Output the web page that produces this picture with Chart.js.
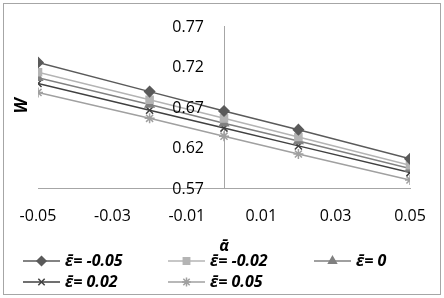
<!DOCTYPE html>
<html>
<head>
<meta charset="utf-8">
<script src="https://cdn.jsdelivr.net/npm/chart.js@4/dist/chart.umd.min.js"></script>
<style>
  html, body { margin: 0; padding: 0; background: #fff; }
  #wrap { width: 444px; height: 298px; }
</style>
</head>
<body>
<div id="wrap"><canvas id="chart" width="444" height="298"></canvas></div>
<script>
// valores
const alphaValues = [-0.05, -0.02, 0, 0.02, 0.05];
const seriesLabels = ['ε̄= -0.05', 'ε̄= -0.02', 'ε̄= 0', 'ε̄= 0.02', 'ε̄= 0.05'];
const wEpsM005 = [0.725, 0.689, 0.665, 0.642, 0.606];
const wEpsM002 = [0.713, 0.679, 0.656, 0.633, 0.598];
const wEps0    = [0.706, 0.673, 0.650, 0.628, 0.594];
const wEps002  = [0.699, 0.666, 0.644, 0.622, 0.589];
const wEps005  = [0.688, 0.656, 0.634, 0.612, 0.580];
const xTicks = [-0.05, -0.03, -0.01, 0.01, 0.03, 0.05];
const yTicks = [0.57, 0.62, 0.67, 0.72, 0.77];

const FONT = "'Open Sans', 'DejaVu Sans', sans-serif";

const styles = [
  { color: '#5a5a5a', point: 'rectRot', radius: 5 },
  { color: '#b4b4b4', point: 'rect', radius: 5 },
  { color: '#808080', point: 'triangle', radius: 5 },
  { color: '#404040', point: 'crossRot', radius: 5 },
  { color: '#a0a0a0', point: 'star', radius: 5 },
];
const allSeries = [wEpsM005, wEpsM002, wEps0, wEps002, wEps005];

const datasets = allSeries.map((vals, i) => ({
  label: seriesLabels[i],
  data: alphaValues.map((a, j) => ({ x: a, y: vals[j] })),
  borderColor: styles[i].color,
  backgroundColor: styles[i].color,
  borderWidth: 1.5,
  pointStyle: styles[i].point,
  pointRadius: styles[i].radius,
  pointBorderWidth: 1.5,
  pointBorderColor: styles[i].color,
  pointBackgroundColor: styles[i].color,
  tension: 0,
}));

// moldura, rótulos do eixo y, título W e legenda em grade
const extras = {
  id: 'extras',
  beforeDraw(chart) {
    const ctx = chart.ctx;
    ctx.save();
    ctx.fillStyle = '#fff';
    ctx.fillRect(0, 0, chart.width, chart.height);
    ctx.strokeStyle = '#a6a6a6';
    ctx.lineWidth = 1;
    ctx.strokeRect(3.5, 3.5, 437, 291);
    ctx.restore();
  },
  afterDraw(chart) {
    const ctx = chart.ctx;
    const xs = chart.scales.x, ys = chart.scales.y;

    // rótulos do eixo y, à esquerda da linha em x = 0
    ctx.save();
    ctx.font = "16px " + FONT;
    ctx.fillStyle = '#000';
    ctx.textAlign = 'right';
    ctx.textBaseline = 'middle';
    const x0 = xs.getPixelForValue(0);
    yTicks.forEach(v => ctx.fillText(v.toFixed(2), x0 - 20, ys.getPixelForValue(v) + 1));
    ctx.restore();

    // W
    ctx.save();
    ctx.translate(22, 106);
    ctx.rotate(-Math.PI / 2);
    ctx.font = "italic bold 17px " + FONT;
    ctx.fillStyle = '#000';
    ctx.textAlign = 'center';
    ctx.textBaseline = 'middle';
    ctx.fillText('W', 0, 0);
    ctx.restore();

    const cols = [23, 168, 314];
    const rows = [261, 282];
    ctx.save();
    ctx.font = "italic bold 16px " + FONT;
    ctx.textBaseline = 'middle';
    chart.data.datasets.forEach((ds, i) => {
      const x = cols[i % 3];
      const y = rows[Math.floor(i / 3)];
      ctx.strokeStyle = ds.borderColor;
      ctx.lineWidth = 1.5;
      ctx.beginPath();
      ctx.moveTo(x, y);
      ctx.lineTo(x + 37, y);
      ctx.stroke();
      ctx.fillStyle = ds.borderColor;
      Chart.helpers.drawPoint(ctx, {
        pointStyle: ds.pointStyle, radius: 4.5, rotation: 0, borderWidth: 1.5
      }, x + 18.5, y);
      ctx.fillStyle = '#000';
      ctx.fillText(ds.label, x + 42, y);
    });
    ctx.restore();
  }
};

new Chart(document.getElementById('chart').getContext('2d'), {
  type: 'line',
  data: { datasets },
  plugins: [extras],
  options: {
    responsive: false,
    animation: false,
    layout: { padding: { left: 38, right: 34, top: 26, bottom: 40 } },
    plugins: { legend: { display: false }, tooltip: { enabled: false } },
    scales: {
      x: {
        type: 'linear',
        min: -0.05,
        max: 0.05,
        afterBuildTicks: (s) => { s.ticks = xTicks.map(v => ({ value: v })); },
        grid: { display: false },
        border: { display: true, color: '#a6a6a6', width: 1 },
        ticks: { padding: 12.5, color: '#000', font: { family: FONT, size: 16, lineHeight: 1 }, callback: v => v.toFixed(2) },
        title: { display: true, text: 'ᾱ', color: '#000', font: { family: FONT, size: 16, weight: 'bold', style: 'italic', lineHeight: 1 }, padding: { top: 1, bottom: 4 } },
      },
      y: {
        type: 'linear',
        position: { x: 0 },
        min: 0.57,
        max: 0.77,
        afterBuildTicks: (s) => { s.ticks = yTicks.map(v => ({ value: v })); },
        grid: { display: false },
        border: { display: true, color: '#a6a6a6', width: 1 },
        ticks: { display: false },
      },
    },
  },
});
</script>
</body>
</html>
